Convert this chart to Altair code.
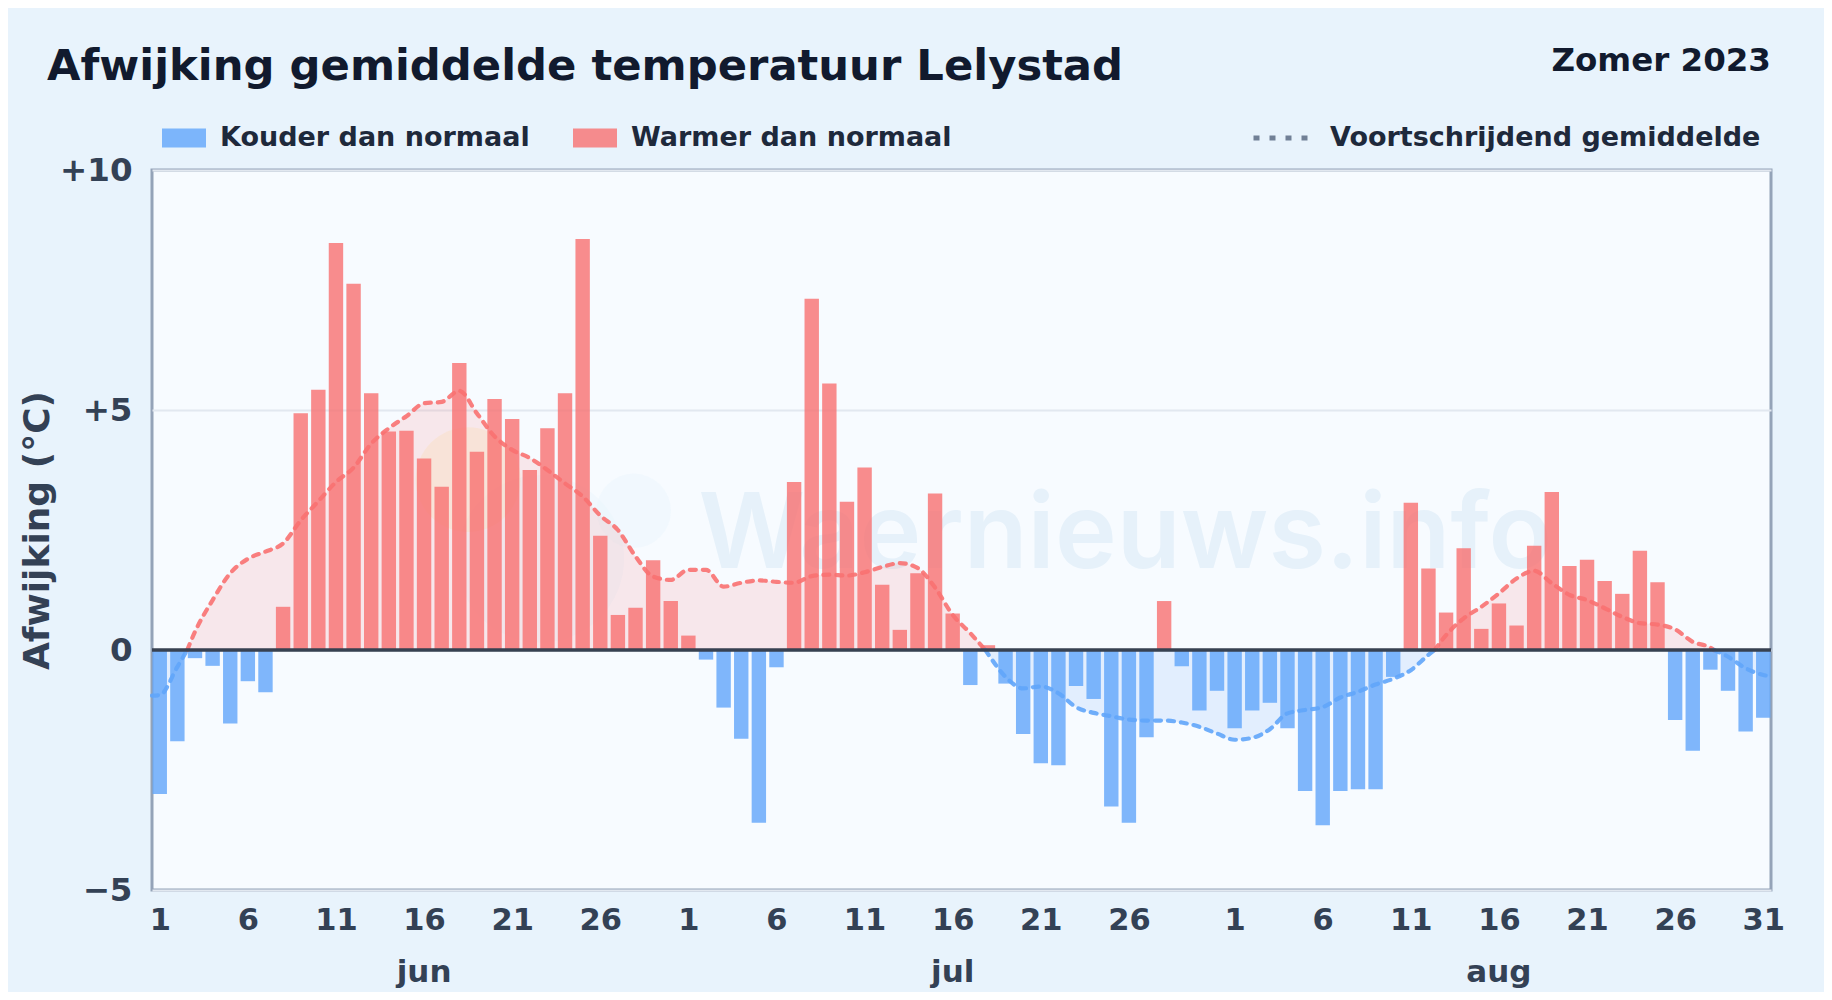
import altair as alt
import pandas as pd

# Daily deviation in degrees C, 1 June to 31 August 2023
juni = [-3.0, -1.9, -0.17, -0.33, -1.53, -0.65, -0.88, 0.9, 4.93, 5.42, 8.48, 7.63, 5.35, 4.55, 4.57,
        3.99, 3.4, 5.98, 4.13, 5.23, 4.81, 3.75, 4.62, 5.35, 8.56, 2.38, 0.73, 0.88, 1.87, 1.02]
juli = [0.3, -0.2, -1.2, -1.85, -3.6, -0.36, 3.5, 7.32, 5.55, 3.09, 3.8, 1.36, 0.42, 1.6, 3.26, 0.76,
        -0.73, 0.1, -0.7, -1.75, -2.36, -2.4, -0.75, -1.02, -3.26, -3.6, -1.82, 1.02, -0.34, -1.26, -0.85]
augustus = [-1.63, -1.26, -1.1, -1.63, -2.94, -3.65, -2.94, -2.9, -2.9, -0.56, 3.07, 1.7, 0.78, 2.12, 0.44,
            0.97, 0.51, 2.17, 3.29, 1.75, 1.88, 1.44, 1.17, 2.07, 1.41, -1.46, -2.1, -0.41, -0.85, -1.7, -1.41]
deviation = juni + juli + augustus

# Running mean; zero values are where the curve changes colour
mean_x = [-0.44, 0, 1, 1.56, 2, 3, 4, 5, 6, 7, 8, 9, 10, 11, 12, 13, 14, 15, 16, 17, 18, 19, 20, 21, 22, 23, 24,
          25, 26, 27, 28, 29, 30, 31, 32, 33, 34, 35, 36, 37, 38, 39, 40, 41, 42, 43, 44, 45, 46, 46.85,
          47, 48, 49, 50, 51, 52, 53, 54, 55, 56, 57, 58, 59, 60, 61, 62, 63, 64, 65, 66, 67, 68, 69, 70, 71, 72, 72.35,
          73, 74, 75, 76, 77, 78, 79, 80, 81, 82, 83, 84, 85, 86, 87, 88, 88.2,
          89, 90, 91, 91.44]
mean_y = [-0.95, -0.94, -0.35, 0, 0.38, 1.04, 1.6, 1.9, 2.05, 2.22, 2.7, 3.1, 3.5, 3.8, 4.3, 4.62, 4.87, 5.14, 5.17,
          5.4, 4.93, 4.45, 4.17, 4.0, 3.75, 3.47, 3.2, 2.8, 2.5, 1.95, 1.53, 1.46, 1.67, 1.67, 1.32, 1.4, 1.45, 1.42, 1.4,
          1.54, 1.57, 1.55, 1.62, 1.73, 1.81, 1.71, 1.3, 0.73, 0.35, 0,
          -0.08, -0.56, -0.8, -0.76, -0.9, -1.19, -1.31, -1.38, -1.45, -1.47, -1.47, -1.51, -1.6, -1.74, -1.87, -1.83, -1.65,
          -1.32, -1.25, -1.19, -0.99, -0.87, -0.72, -0.6, -0.42, -0.1, 0,
          0.31, 0.66, 0.9, 1.18, 1.49, 1.65, 1.39, 1.15, 1.04, 0.87, 0.69, 0.56, 0.53, 0.43, 0.17, 0.05, 0,
          -0.14, -0.38, -0.52, -0.55]

tick_positions = [0, 5, 10, 15, 20, 25, 30, 35, 40, 45, 50, 55, 61, 66, 71, 76, 81, 86, 91]
y_ticks = [-5, 0, 5, 10]
month_names = ["jun", "jul", "aug"]
month_positions = [15, 45, 76]
cold_label = "Kouder dan normaal"
warm_label = "Warmer dan normaal"
mean_label = "Voortschrijdend gemiddelde"
title_text = "Afwijking gemiddelde temperatuur Lelystad"
season_text = "Zomer 2023"
watermark_text = "Waernieuws.info"
logo_x = [21.6, 26.9, 17.5]
logo_y = [1.9, 2.9, 3.55]
logo_size = [28000, 5540, 11000]
logo_color = ["#e8f4fd", "#e8f4fd", "#fdf0c8"]

RED, BLUE = "#f87171", "#60a5fa"
FONT = "DejaVu Sans"
INK = "#334155"

bars = pd.DataFrame({
    "i": range(len(deviation)),
    "v": deviation,
    "cat": [warm_label if v > 0 else cold_label for v in deviation],
})

rows, seg = [], 0
for x, y in zip(mean_x, mean_y):
    rows.append({"x": x, "y": y, "seg": seg, "name": mean_label})
    if y == 0:
        seg += 1
        rows.append({"x": x, "y": y, "seg": seg, "name": mean_label})
curve = pd.DataFrame(rows)
seg_sign = curve.groupby("seg")["y"].sum()
curve["sign"] = curve["seg"].map(lambda s: 1 if seg_sign[s] > 0 else -1)
pos, neg = curve[curve.sign > 0], curve[curve.sign < 0]

x_scale = alt.Scale(domain=[-0.44, 91.44], nice=False, zero=False, padding=0)
x_axis = alt.Axis(
    values=tick_positions,
    labelExpr="datum.value < 30 ? datum.value + 1 : datum.value < 61 ? datum.value - 29 : datum.value - 60",
    title=None, domain=False, ticks=False, grid=False,
    labelFontSize=30.5, labelFontWeight="bold", labelColor=INK, labelFont=FONT, labelPadding=15,
    labelOverlap=False, labelBound=False, labelFlush=False,
)
y_scale = alt.Scale(domain=[-5, 10], nice=False, zero=False)
y_axis = alt.Axis(
    values=y_ticks,
    labelExpr="datum.value > 0 ? '+' + datum.value : datum.value < 0 ? '\u2212' + abs(datum.value) : '0'",
    title="Afwijking (\u00b0C)", titleFontSize=36, titleFontWeight="bold", titleColor=INK, titleFont=FONT,
    titlePadding=3,
    domain=False, ticks=False, grid=True, gridColor="#e2e8f0", gridWidth=2,
    labelFontSize=32.5, labelFontWeight="bold", labelColor=INK, labelFont=FONT, labelPadding=20,
    labelOverlap=False,
)
X = alt.X("x:Q", scale=x_scale, axis=x_axis)
Y = alt.Y("y:Q", scale=y_scale, axis=y_axis)

watermark = alt.Chart(pd.DataFrame({"t": [watermark_text], "x": [54.8], "y": [2.35]})).mark_text(
    font="Inter", fontWeight=600, fontSize=104.5, color="#e6f1fa", align="center", baseline="middle"
).encode(x=X, y=Y, text="t:N")

logo = alt.Chart(pd.DataFrame({"x": logo_x, "y": logo_y, "s": logo_size, "c": logo_color})).mark_point(
    filled=True, shape="circle", opacity=0.4
).encode(x=X, y=Y, size=alt.Size("s:Q", scale=None, legend=None), color=alt.Color("c:N", scale=None, legend=None))

area_pos = alt.Chart(pos).mark_area(interpolate="monotone", color=RED, opacity=0.14).encode(
    x=X, y=Y, y2=alt.datum(0), detail="seg:N")
area_neg = alt.Chart(neg).mark_area(interpolate="monotone", color=BLUE, opacity=0.14).encode(
    x=X, y=Y, y2=alt.datum(0), detail="seg:N")

bar_layer = alt.Chart(bars).mark_bar(width=14.4, opacity=0.8, orient="vertical").encode(
    x=alt.X("i:Q", scale=x_scale, axis=x_axis),
    y=alt.Y("v:Q", scale=y_scale, axis=y_axis),
    y2=alt.datum(0),
    color=alt.Color(
        "cat:N",
        scale=alt.Scale(domain=[cold_label, warm_label], range=[BLUE, RED]),
        legend=alt.Legend(
            orient="none", legendX=10, legendY=-54, direction="horizontal", title=None,
            symbolType="M-1,-0.43H1V0.43H-1Z", symbolSize=1936, symbolOpacity=0.8, symbolStrokeWidth=0,
            labelFontSize=27, labelFontWeight="bold", labelColor="#1e293b", labelFont=FONT,
            labelOffset=14, columnPadding=43, padding=0, labelLimit=500,
        ),
    ),
)

# invisible copy of the curve that only carries the legend entry with its dotted sample
legend_line = alt.Chart(pos).mark_line(opacity=0, color="#718096").encode(
    x=X, y=Y, detail="seg:N",
    strokeDash=alt.StrokeDash(
        "name:N",
        scale=alt.Scale(domain=[mean_label], range=[[6, 10]]),
        legend=alt.Legend(
            orient="none", legendX=1099, legendY=-62, direction="horizontal", title=None,
            symbolType="stroke", symbolSize=3025, symbolStrokeWidth=5,
            symbolStrokeColor="#718096", symbolOpacity=1,
            labelFontSize=27, labelFontWeight="bold", labelColor="#1e293b", labelFont=FONT,
            labelOffset=19, padding=0, labelLimit=600,
        ),
    ),
)
line_pos = alt.Chart(pos).mark_line(
    interpolate="monotone", color=RED, strokeWidth=4.2, opacity=0.9, strokeCap="round", strokeDash=[6, 7]
).encode(x=X, y=Y, detail="seg:N")
line_neg = alt.Chart(neg).mark_line(
    interpolate="monotone", color=BLUE, strokeWidth=4.2, opacity=0.9, strokeCap="round", strokeDash=[6, 7]
).encode(x=X, y=Y, detail="seg:N")

zero = alt.Chart(pd.DataFrame({"y": [0]})).mark_rule(color="#374151", strokeWidth=3.6).encode(y=Y)

months = alt.Chart(pd.DataFrame({"x": month_positions, "t": month_names})).mark_text(
    font=FONT, fontWeight="bold", fontSize=31, color=INK, baseline="alphabetic", align="center"
).encode(x=X, y=alt.value(812), text="t:N")

season = alt.Chart(pd.DataFrame({"t": [season_text]})).mark_text(
    font=FONT, fontWeight="bold", fontSize=32.5, color="#111a2e", baseline="alphabetic", align="right"
).encode(x=alt.value(1619), y=alt.value(-99), text="t:N")

heading = alt.Chart(pd.DataFrame({"t": [title_text]})).mark_text(
    font=FONT, fontWeight="bold", fontSize=43.3, color="#111a2e", baseline="alphabetic", align="left"
).encode(x=alt.value(-105), y=alt.value(-90), text="t:N")

chart = alt.layer(
    watermark, logo, area_pos, area_neg, bar_layer, legend_line, line_pos, line_neg, zero, months, season, heading
).resolve_scale(
    color="independent", size="independent"
).properties(
    width=1619, height=720,
    background="#e8f3fc",
    padding={"left": 144, "top": 162, "right": 53, "bottom": 102},
    autosize=alt.AutoSizeParams(type="none"),
).configure_view(fill="#f7fbff", stroke="#94a3b8", strokeWidth=3)

chart.save("out.html", embed_options={"renderer": "svg", "actions": False})
